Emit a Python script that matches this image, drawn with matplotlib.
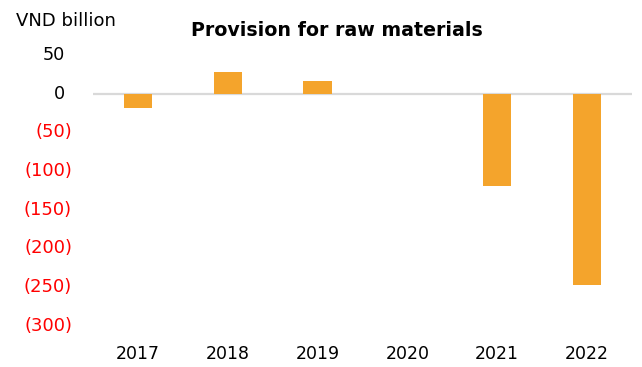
import matplotlib
matplotlib.use('Agg')
import matplotlib.pyplot as plt
from matplotlib.transforms import blended_transform_factory, offset_copy

# Provision for raw materials, VND billion
years = ['2017', '2018', '2019', '2020', '2021', '2022']
provision = [-19, 28, 17, 0, -119, -248]
y_ticks = [50, 0, -50, -100, -150, -200, -250, -300]

plt.rcParams['font.family'] = ['DejaVu Sans']

fig = plt.figure(figsize=(6.42, 3.67), dpi=100)
ax = fig.add_axes([0.1449, 0.1125, 0.8395, 0.7376])

x = list(range(len(years)))
ax.bar(x, provision, width=0.315, color='#F4A42C', zorder=3)
ax.axhline(0, color='#D9D9D9', lw=1.6, zorder=2)

ax.set_xlim(-0.5, len(years) - 0.5)
ax.set_ylim(-300, 50)
for s in ax.spines.values():
    s.set_visible(False)

ax.set_xticks(x, years)
ax.tick_params(axis='x', length=0, pad=14, labelsize=12.5, colors='#000000')
ax.set_yticks(y_ticks)
ax.set_yticklabels([])
ax.tick_params(axis='y', length=0)

# accounting-style y labels: negatives in red parentheses
trans = blended_transform_factory(ax.transAxes, ax.transData)
for v in y_ticks:
    if v < 0:
        label, color, dx, size = f'({-v})', '#FF0000', -21, 13
    else:
        label, color, dx, size = f'{v}', '#000000', -28, 12.7
    ax.text(0, v, label, color=color, fontsize=size, ha='right', va='center',
            transform=offset_copy(trans, fig=fig, x=dx, y=0, units='dots'))

fig.text(337 / 642, 1 - 30 / 367, 'Provision for raw materials',
         ha='center', va='center', fontsize=13.7, fontweight='bold')
fig.text(16 / 642, 1 - 21 / 367, 'VND billion', ha='left', va='center',
         fontsize=13)

fig.savefig('out.png', dpi=100)
